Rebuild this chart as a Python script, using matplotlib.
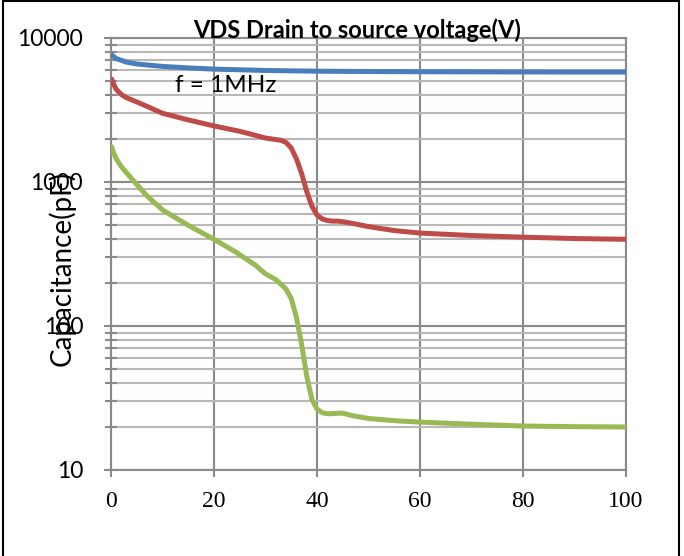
import numpy as np
import matplotlib
matplotlib.use("Agg")
import matplotlib.pyplot as plt
from matplotlib.ticker import LogLocator, NullFormatter, FixedLocator
from matplotlib.patches import Rectangle

# values (VDS in V, capacitance in pF)
vds_ciss = [0, 1, 3, 5, 10, 15, 20, 30, 40, 50, 60, 70, 80, 90, 100]
ciss = [7700, 7200, 6800, 6600, 6350, 6200, 6080, 5950, 5880, 5850, 5830, 5820, 5810, 5800, 5800]

vds_coss = [0, 0.5, 1, 2, 3, 5, 7, 10, 15, 20, 25, 30, 32, 33, 34, 35, 36, 37, 38, 39, 40, 41, 42, 43, 44, 45, 47, 50, 55, 60, 70, 80, 90, 100]
coss = [5300, 4800, 4400, 4050, 3850, 3600, 3350, 3000, 2700, 2450, 2250, 2020, 1970, 1950, 1880, 1720, 1450, 1150, 860, 680, 590, 555, 540, 535, 535, 530, 515, 490, 460, 442, 425, 414, 405, 400]

vds_crss = [0, 0.5, 1, 2, 3, 5, 7, 10, 15, 20, 24, 28, 30, 32, 33, 34, 35, 36, 37, 38, 39, 40, 41, 42, 43, 44, 45, 47, 50, 55, 60, 70, 80, 90, 100]
crss = [1800, 1600, 1450, 1280, 1160, 960, 800, 640, 500, 400, 330, 265, 230, 210, 195, 180, 155, 115, 75, 45, 31, 26.5, 25, 24.6, 24.6, 24.8, 24.8, 23.8, 22.8, 22.0, 21.5, 20.8, 20.2, 20.0, 19.9]

series = [(vds_ciss, ciss, "#4A7EBB"), (vds_coss, coss, "#BE4B48"), (vds_crss, crss, "#98B954")]
xticks = [0, 20, 40, 60, 80, 100]
yticks = [10, 100, 1000, 10000]

fig = plt.figure(figsize=(6.84, 5.56), dpi=100)
ax = fig.add_axes([111/684, 1-470/556, 515/684, 432/556])

for x, y, c in series:
    ax.plot(x, y, color=c, lw=3.6, solid_joinstyle="round", solid_capstyle="butt", zorder=3)

ax.set_yscale("log")
ax.set_xlim(0, 100)
ax.set_ylim(10, 10000)
ax.xaxis.set_major_locator(FixedLocator(xticks))
ax.yaxis.set_major_locator(FixedLocator(yticks))
ax.yaxis.set_minor_locator(LogLocator(base=10, subs=np.arange(2, 10)))
ax.yaxis.set_minor_formatter(NullFormatter())
ax.set_yticklabels([str(v) for v in yticks], family="Lato", fontsize=16.5)
ax.set_xticklabels([str(v) for v in xticks], family="Liberation Serif", fontsize=17)

ax.grid(which="major", axis="both", color="#8a8a8a", lw=1.5, zorder=1)
ax.grid(which="minor", axis="y", color="#b8b8b8", lw=1.5, zorder=1)
for s in ax.spines.values():
    s.set_color("#8a8a8a")
    s.set_linewidth(1.5)

ax.tick_params(axis="y", which="major", direction="inout", length=10, width=1.5, color="#8a8a8a", pad=15)
ax.tick_params(axis="y", which="minor", direction="inout", length=8, width=1.5, color="#8a8a8a")
ax.tick_params(axis="x", which="major", direction="inout", length=10, width=1.5, color="#8a8a8a", pad=10)
ax.tick_params(axis="x", which="minor", bottom=False)

fig.text(357/684, 1-38/556, "VDS Drain to source voltage(V)", family="Lato", fontweight="bold",
         fontsize=17, ha="center", va="baseline")
fig.text(175/684, 1-92/556, "f = 1MHz", family="Lato", fontsize=17.5, ha="left", va="baseline")
fig.text(62/684, 1-268/556, "Capacitance(pF)", family="Lato", fontsize=20, rotation=90,
         ha="center", va="center")

fig.patches.append(Rectangle((3/684, -0.1), 676/684, 1.1 - 1/556, transform=fig.transFigure,
                             fill=False, edgecolor="black", lw=1.5))

fig.savefig("out.png", dpi=100)
